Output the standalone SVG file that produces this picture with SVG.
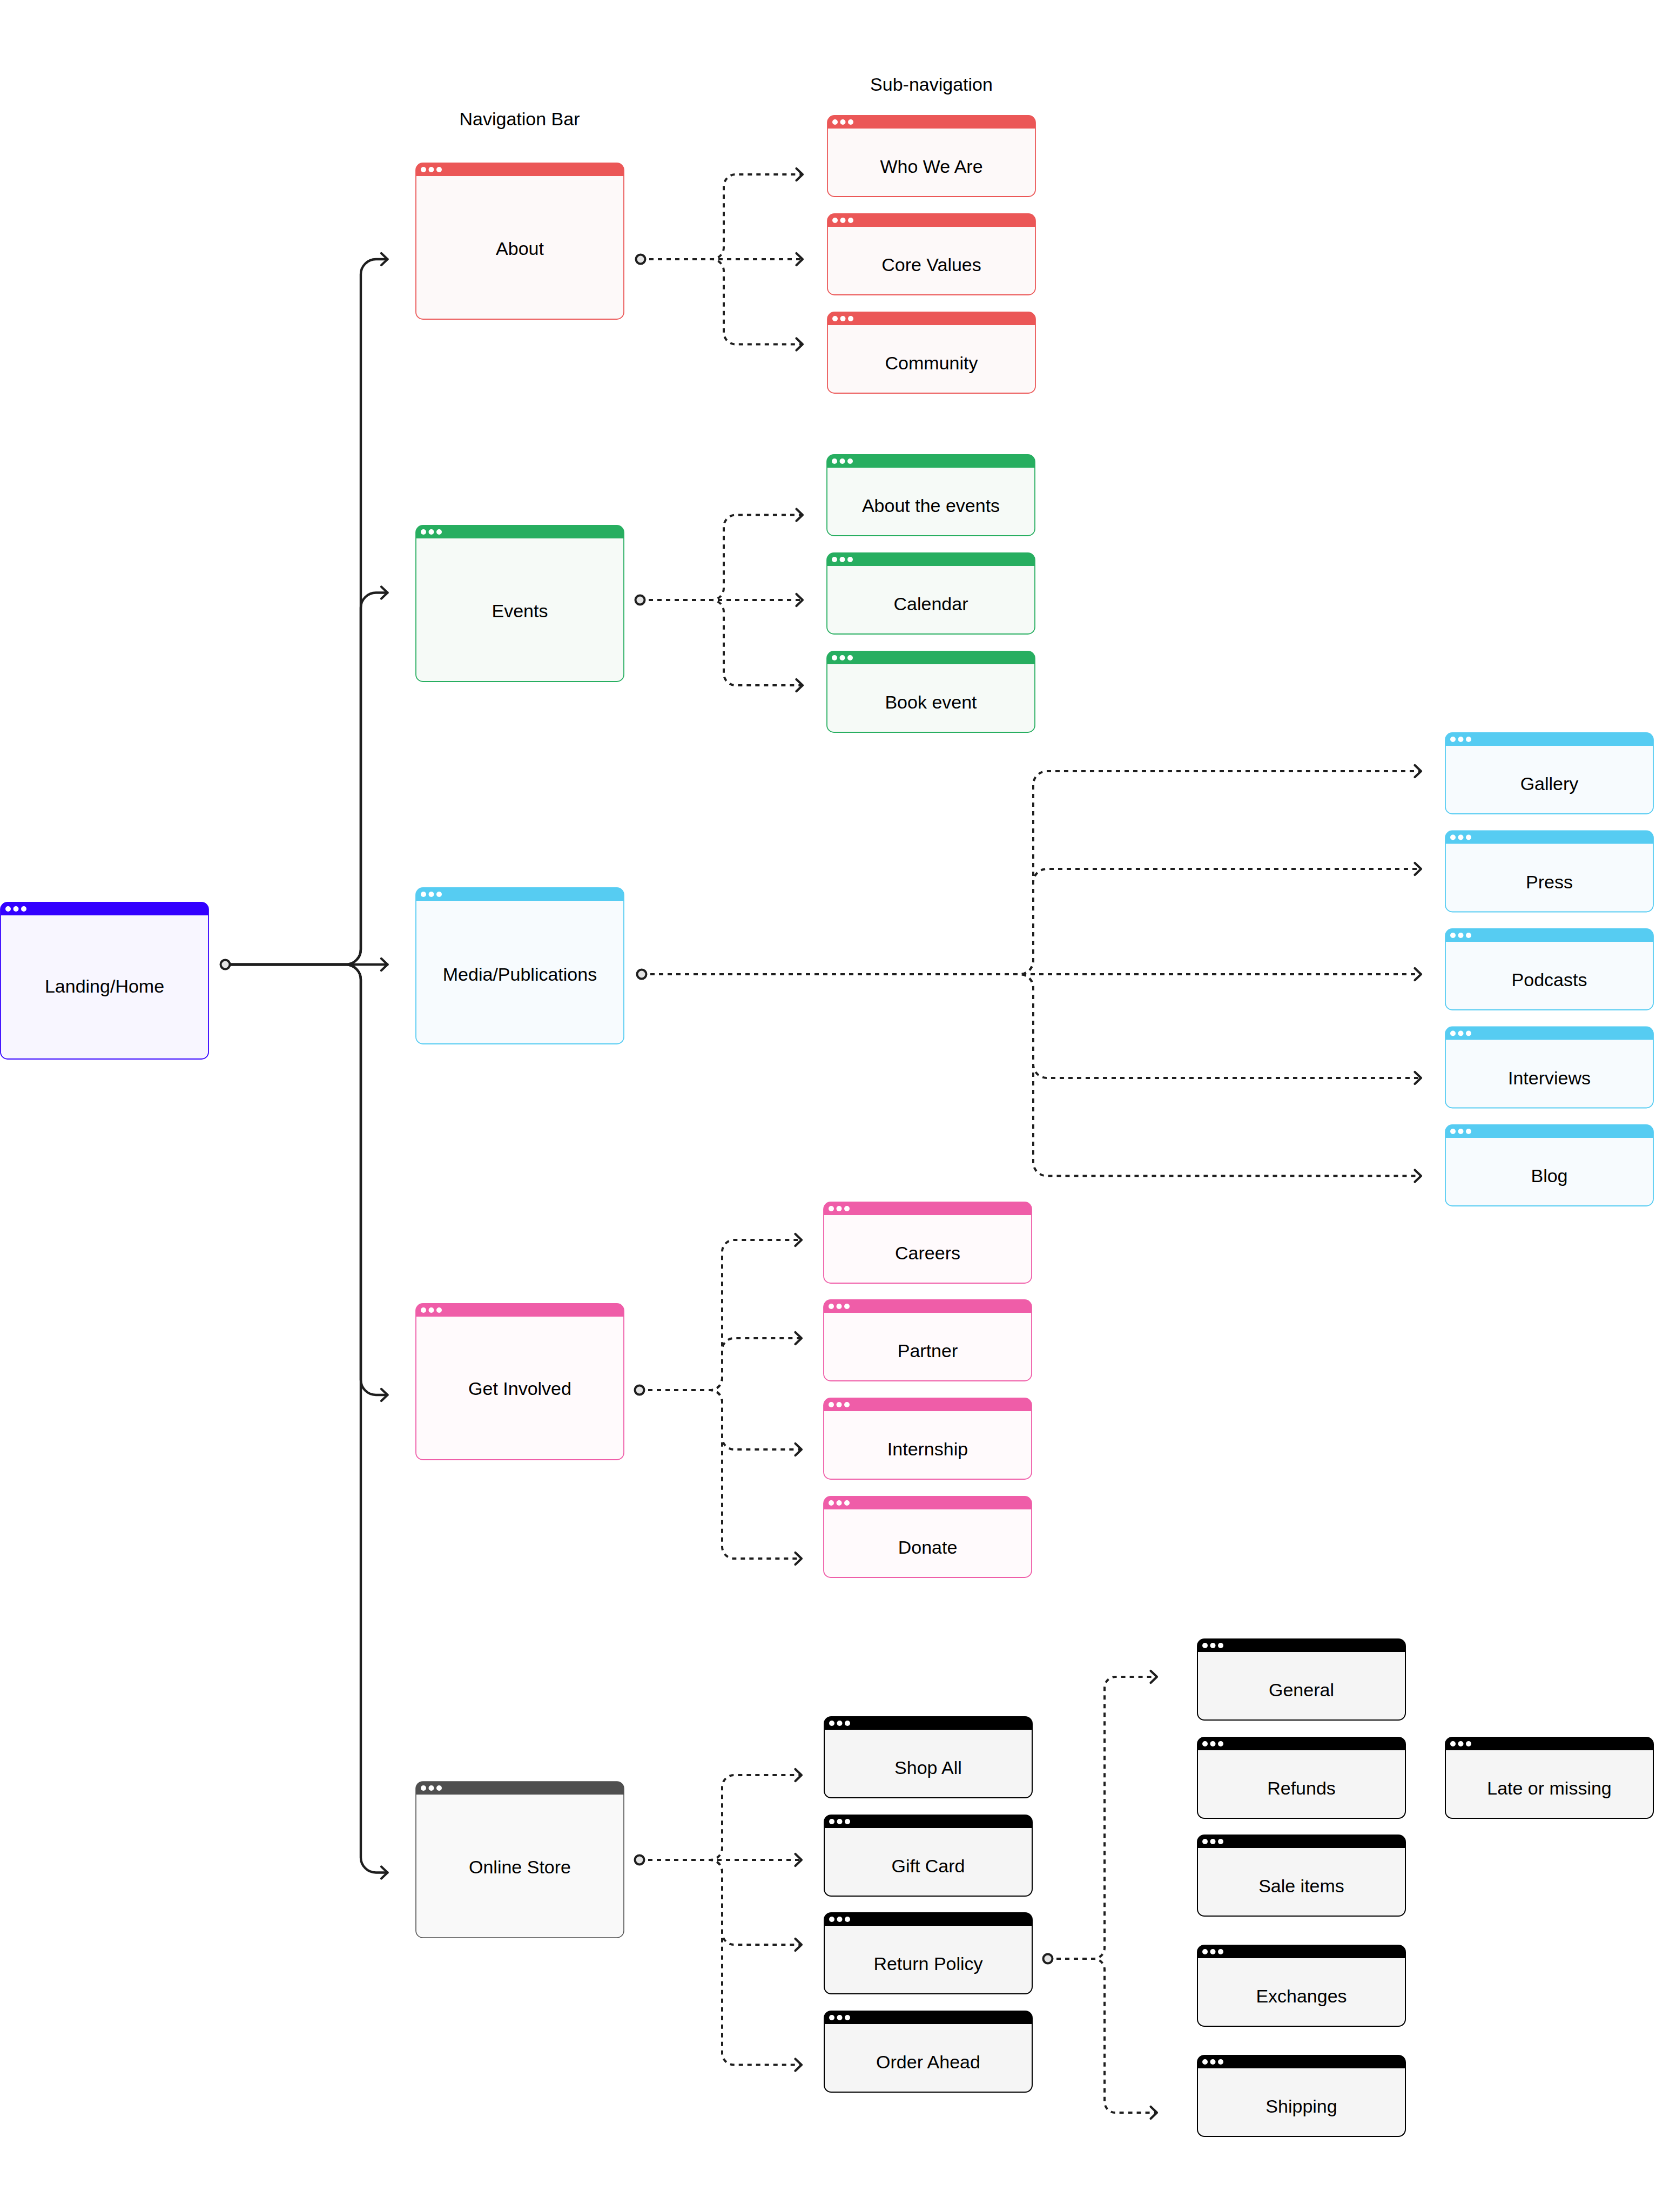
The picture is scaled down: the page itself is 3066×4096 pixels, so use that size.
<svg xmlns="http://www.w3.org/2000/svg" xmlns:xlink="http://www.w3.org/1999/xlink" width="3066" height="4096" viewBox="0 0 3066 4096">
<style>
.lbl{font-family:"Liberation Sans",Arial,sans-serif;font-size:34px;fill:#000;text-anchor:middle}
.sol{fill:none;stroke:#1e1e1e;stroke-width:4.4;stroke-linecap:round;stroke-linejoin:round}
.dsh{fill:none;stroke:#1e1e1e;stroke-width:4;stroke-dasharray:8 8}
.start{fill:#e4e4e4;stroke:#1e1e1e;stroke-width:4}
.dots{fill:#fff}
.red .body{fill:#fdf9f9;stroke:#eb5757;stroke-width:1.8}.red .hd{fill:#eb5757}
.green .body{fill:#f6faf7;stroke:#27ae60;stroke-width:1.8}.green .hd{fill:#27ae60}
.cyan .body{fill:#f7fbfe;stroke:#56ccf2;stroke-width:1.8}.cyan .hd{fill:#56ccf2}
.pink .body{fill:#fffafc;stroke:#ef5da8;stroke-width:1.8}.pink .hd{fill:#ef5da8}
.violet .body{fill:#f8f6ff;stroke:#3300ff;stroke-width:1.8}.violet .hd{fill:#3300ff}
.grey .body{fill:#f9f9f9;stroke:#4f4f4f;stroke-width:1.6}.grey .hd{fill:#4f4f4f}
.black .body{fill:#f5f5f5;stroke:#000;stroke-width:2}.black .hd{fill:#000}
</style>
<defs>
<path id="hdr" d="M0 24V13A13 13 0 0 1 13 0H372A13 13 0 0 1 385 13V24Z"/>
<rect id="bodyM" x="0" y="0" width="385" height="289" rx="13"/>
<rect id="bodyL" x="0" y="0" width="385" height="290" rx="13"/>
<rect id="bodyS" x="0" y="0" width="385" height="150" rx="13"/>
<g id="dots3"><circle cx="14" cy="12" r="5"/><circle cx="28.5" cy="12" r="5"/><circle cx="43" cy="12" r="5"/></g>
<marker id="chev" markerWidth="30" markerHeight="30" refX="0" refY="0" orient="auto" markerUnits="userSpaceOnUse" overflow="visible">
<path d="M-11.5 -11L0 0L-11.5 11" fill="none" stroke="#1e1e1e" stroke-width="4.2" stroke-linecap="round" stroke-linejoin="round"/>
</marker>
</defs>
<rect width="3066" height="4096" fill="#fff"/>

<text class="lbl" x="962" y="232">Navigation Bar</text>
<text class="lbl" x="1724.5" y="168">Sub-navigation</text>

<g id="connectors">
<g marker-end="url(#chev)">
<path class="sol" d="M417 1786H640A28 28 0 0 0 668 1758V508A28 28 0 0 1 696 480H717.5"/>
<path class="sol" d="M417 1786H640A28 28 0 0 0 668 1758V1125.5A28 28 0 0 1 696 1097.5H717.5"/>
<path class="sol" d="M417 1786H717.5"/>
<path class="sol" d="M417 1786H640A28 28 0 0 1 668 1814V2555A28 28 0 0 0 696 2583H717.5"/>
<path class="sol" d="M417 1786H640A28 28 0 0 1 668 1814V3439.5A28 28 0 0 0 696 3467.5H717.5"/>

<path class="dsh" d="M1186 480H1318A22 22 0 0 0 1340 458V345A22 22 0 0 1 1362 323H1486"/>
<path class="dsh" d="M1186 480H1486"/>
<path class="dsh" d="M1186 480H1318A22 22 0 0 1 1340 502V615.5A22 22 0 0 0 1362 637.5H1486"/>

<path class="dsh" d="M1185 1111H1318A22 22 0 0 0 1340 1089V975.6A22 22 0 0 1 1362 953.6H1486"/>
<path class="dsh" d="M1185 1111H1486"/>
<path class="dsh" d="M1185 1111H1318A22 22 0 0 1 1340 1133V1247A22 22 0 0 0 1362 1269H1486"/>

<path class="dsh" d="M1188 1804H1888A25 25 0 0 0 1913 1779V1453A25 25 0 0 1 1938 1428H2631"/>
<path class="dsh" d="M1188 1804H1888A25 25 0 0 0 1913 1779V1634A25 25 0 0 1 1938 1609H2631"/>
<path class="dsh" d="M1188 1804H2631"/>
<path class="dsh" d="M1188 1804H1888A25 25 0 0 1 1913 1829V1971A25 25 0 0 0 1938 1996H2631"/>
<path class="dsh" d="M1188 1804H1888A25 25 0 0 1 1913 1829V2152.5A25 25 0 0 0 1938 2177.5H2631"/>

<path class="dsh" d="M1184 2574H1315A22 22 0 0 0 1337 2552V2318A22 22 0 0 1 1359 2296H1484"/>
<path class="dsh" d="M1184 2574H1315A22 22 0 0 0 1337 2552V2500A22 22 0 0 1 1359 2478H1484"/>
<path class="dsh" d="M1184 2574H1315A22 22 0 0 1 1337 2596V2662A22 22 0 0 0 1359 2684H1484"/>
<path class="dsh" d="M1184 2574H1315A22 22 0 0 1 1337 2596V2864A22 22 0 0 0 1359 2886H1484"/>

<path class="dsh" d="M1184 3444H1315A22 22 0 0 0 1337 3422V3309A22 22 0 0 1 1359 3287H1484"/>
<path class="dsh" d="M1184 3444H1484"/>
<path class="dsh" d="M1184 3444H1315A22 22 0 0 1 1337 3466V3579A22 22 0 0 0 1359 3601H1484"/>
<path class="dsh" d="M1184 3444H1315A22 22 0 0 1 1337 3466V3801.6A22 22 0 0 0 1359 3823.6H1484"/>

<path class="dsh" d="M1940 3627H2025A20 20 0 0 0 2045 3607V3125A20 20 0 0 1 2065 3105H2142"/>
<path class="dsh" d="M1940 3627H2025A20 20 0 0 1 2045 3647V3892A20 20 0 0 0 2065 3912H2142"/>
</g>
<circle class="start" cx="417" cy="1786" r="8.5"/>
<circle class="start" cx="1186" cy="480" r="8.5"/>
<circle class="start" cx="1185" cy="1111" r="8.5"/>
<circle class="start" cx="1188" cy="1804" r="8.5"/>
<circle class="start" cx="1184" cy="2574" r="8.5"/>
<circle class="start" cx="1184" cy="3444" r="8.5"/>
<circle class="start" cx="1940" cy="3627" r="8.5"/>
</g>

<g id="landing" class="violet" transform="translate(1,1671)"><use href="#bodyL" class="body"/><use href="#hdr" class="hd"/><use href="#dots3" class="dots"/><text class="lbl" x="192.5" y="167">Landing/Home</text></g>

<g id="about" class="red" transform="translate(770,302)"><use href="#bodyM" class="body"/><use href="#hdr" class="hd"/><use href="#dots3" class="dots"/><text class="lbl" x="192.5" y="170">About</text></g>
<g id="events" class="green" transform="translate(770,973)"><use href="#bodyM" class="body"/><use href="#hdr" class="hd"/><use href="#dots3" class="dots"/><text class="lbl" x="192.5" y="170">Events</text></g>
<g id="media" class="cyan" transform="translate(770,1644)"><use href="#bodyM" class="body"/><use href="#hdr" class="hd"/><use href="#dots3" class="dots"/><text class="lbl" x="192.5" y="172">Media/Publications</text></g>
<g id="get-involved" class="pink" transform="translate(770,2414)"><use href="#bodyM" class="body"/><use href="#hdr" class="hd"/><use href="#dots3" class="dots"/><text class="lbl" x="192.5" y="169">Get Involved</text></g>
<g id="online-store" class="grey" transform="translate(770,3299)"><use href="#bodyM" class="body"/><use href="#hdr" class="hd"/><use href="#dots3" class="dots"/><text class="lbl" x="192.5" y="170">Online Store</text></g>

<g id="who-we-are" class="red" transform="translate(1532,214)"><use href="#bodyS" class="body"/><use href="#hdr" class="hd"/><use href="#dots3" class="dots"/><text class="lbl" x="192.5" y="106">Who We Are</text></g>
<g id="core-values" class="red" transform="translate(1532,396)"><use href="#bodyS" class="body"/><use href="#hdr" class="hd"/><use href="#dots3" class="dots"/><text class="lbl" x="192.5" y="106">Core Values</text></g>
<g id="community" class="red" transform="translate(1532,578)"><use href="#bodyS" class="body"/><use href="#hdr" class="hd"/><use href="#dots3" class="dots"/><text class="lbl" x="192.5" y="106">Community</text></g>

<g id="about-the-events" class="green" transform="translate(1531,842)"><use href="#bodyS" class="body"/><use href="#hdr" class="hd"/><use href="#dots3" class="dots"/><text class="lbl" x="192.5" y="106">About the events</text></g>
<g id="calendar" class="green" transform="translate(1531,1024)"><use href="#bodyS" class="body"/><use href="#hdr" class="hd"/><use href="#dots3" class="dots"/><text class="lbl" x="192.5" y="106">Calendar</text></g>
<g id="book-event" class="green" transform="translate(1531,1206)"><use href="#bodyS" class="body"/><use href="#hdr" class="hd"/><use href="#dots3" class="dots"/><text class="lbl" x="192.5" y="106">Book event</text></g>

<g id="gallery" class="cyan" transform="translate(2676,1357)"><use href="#bodyS" class="body"/><use href="#hdr" class="hd"/><use href="#dots3" class="dots"/><text class="lbl" x="192.5" y="106">Gallery</text></g>
<g id="press" class="cyan" transform="translate(2676,1538.5)"><use href="#bodyS" class="body"/><use href="#hdr" class="hd"/><use href="#dots3" class="dots"/><text class="lbl" x="192.5" y="106">Press</text></g>
<g id="podcasts" class="cyan" transform="translate(2676,1720)"><use href="#bodyS" class="body"/><use href="#hdr" class="hd"/><use href="#dots3" class="dots"/><text class="lbl" x="192.5" y="106">Podcasts</text></g>
<g id="interviews" class="cyan" transform="translate(2676,1901.5)"><use href="#bodyS" class="body"/><use href="#hdr" class="hd"/><use href="#dots3" class="dots"/><text class="lbl" x="192.5" y="106">Interviews</text></g>
<g id="blog" class="cyan" transform="translate(2676,2083)"><use href="#bodyS" class="body"/><use href="#hdr" class="hd"/><use href="#dots3" class="dots"/><text class="lbl" x="192.5" y="106">Blog</text></g>

<g id="careers" class="pink" transform="translate(1525,2226)"><use href="#bodyS" class="body"/><use href="#hdr" class="hd"/><use href="#dots3" class="dots"/><text class="lbl" x="192.5" y="106">Careers</text></g>
<g id="partner" class="pink" transform="translate(1525,2407)"><use href="#bodyS" class="body"/><use href="#hdr" class="hd"/><use href="#dots3" class="dots"/><text class="lbl" x="192.5" y="106">Partner</text></g>
<g id="internship" class="pink" transform="translate(1525,2589)"><use href="#bodyS" class="body"/><use href="#hdr" class="hd"/><use href="#dots3" class="dots"/><text class="lbl" x="192.5" y="106">Internship</text></g>
<g id="donate" class="pink" transform="translate(1525,2771)"><use href="#bodyS" class="body"/><use href="#hdr" class="hd"/><use href="#dots3" class="dots"/><text class="lbl" x="192.5" y="106">Donate</text></g>

<g id="shop-all" class="black" transform="translate(1526,3179)"><use href="#bodyS" class="body"/><use href="#hdr" class="hd"/><use href="#dots3" class="dots"/><text class="lbl" x="192.5" y="106">Shop All</text></g>
<g id="gift-card" class="black" transform="translate(1526,3361)"><use href="#bodyS" class="body"/><use href="#hdr" class="hd"/><use href="#dots3" class="dots"/><text class="lbl" x="192.5" y="106">Gift Card</text></g>
<g id="return-policy" class="black" transform="translate(1526,3542)"><use href="#bodyS" class="body"/><use href="#hdr" class="hd"/><use href="#dots3" class="dots"/><text class="lbl" x="192.5" y="106">Return Policy</text></g>
<g id="order-ahead" class="black" transform="translate(1526,3724)"><use href="#bodyS" class="body"/><use href="#hdr" class="hd"/><use href="#dots3" class="dots"/><text class="lbl" x="192.5" y="106">Order Ahead</text></g>

<g id="general" class="black" transform="translate(2217,3035)"><use href="#bodyS" class="body"/><use href="#hdr" class="hd"/><use href="#dots3" class="dots"/><text class="lbl" x="192.5" y="106">General</text></g>
<g id="refunds" class="black" transform="translate(2217,3217)"><use href="#bodyS" class="body"/><use href="#hdr" class="hd"/><use href="#dots3" class="dots"/><text class="lbl" x="192.5" y="106">Refunds</text></g>
<g id="sale-items" class="black" transform="translate(2217,3398)"><use href="#bodyS" class="body"/><use href="#hdr" class="hd"/><use href="#dots3" class="dots"/><text class="lbl" x="192.5" y="106">Sale items</text></g>
<g id="exchanges" class="black" transform="translate(2217,3602)"><use href="#bodyS" class="body"/><use href="#hdr" class="hd"/><use href="#dots3" class="dots"/><text class="lbl" x="192.5" y="106">Exchanges</text></g>
<g id="shipping" class="black" transform="translate(2217,3806)"><use href="#bodyS" class="body"/><use href="#hdr" class="hd"/><use href="#dots3" class="dots"/><text class="lbl" x="192.5" y="106">Shipping</text></g>
<g id="late-or-missing" class="black" transform="translate(2676,3217)"><use href="#bodyS" class="body"/><use href="#hdr" class="hd"/><use href="#dots3" class="dots"/><text class="lbl" x="192.5" y="106">Late or missing</text></g>
</svg>
